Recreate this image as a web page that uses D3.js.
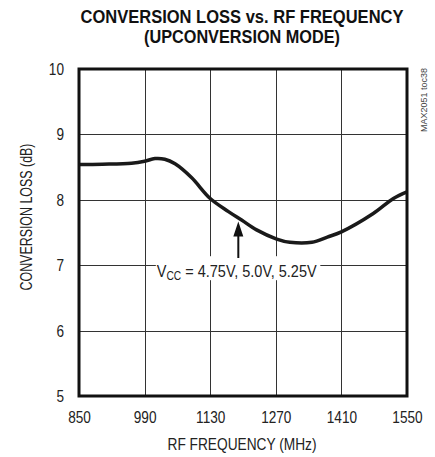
<!DOCTYPE html>
<html>
<head>
<meta charset="utf-8">
<script src="https://cdn.jsdelivr.net/npm/d3@7"></script>
<style>
  body { margin: 0; background: #fff; }
  text { font-family: 'Liberation Sans Narrow', 'Arial Narrow', 'Liberation Sans', sans-serif; fill: #222; }
</style>
</head>
<body>
<div id="chart"></div>
<script>
// Curve (MHz, dB)
const freqs = [850, 900, 962, 990, 1012, 1033, 1055, 1090, 1130, 1169, 1197, 1229, 1272, 1300, 1347, 1380, 1410, 1478, 1521, 1550];
const loss = [8.54, 8.545, 8.56, 8.59, 8.63, 8.62, 8.55, 8.34, 8.02, 7.82, 7.69, 7.54, 7.40, 7.35, 7.35, 7.43, 7.51, 7.79, 8.02, 8.12];

const xTicks = [850, 990, 1130, 1270, 1410, 1550];
const yTicks = [5, 6, 7, 8, 9, 10];

const titleLines = ['CONVERSION LOSS vs. RF FREQUENCY', '(UPCONVERSION MODE)'];
const xTitle = 'RF FREQUENCY (MHz)';
const yTitle = 'CONVERSION LOSS (dB)';
const tocLabel = 'MAX2051 toc38';

const width = 435, height = 457;
const margin = { top: 69, right: 28, bottom: 61, left: 79 };
const innerW = width - margin.left - margin.right;
const innerH = height - margin.top - margin.bottom;

// no narrow font installed, so squeeze the glyphs horizontally
function condense(sel, factor) {
  sel.each(function () {
    const w = this.getComputedTextLength();
    d3.select(this)
      .attr('textLength', w * factor)
      .attr('lengthAdjust', 'spacingAndGlyphs');
  });
}

const svg = d3.select('#chart').append('svg')
  .attr('width', width)
  .attr('height', height);

const chart = svg.append('g')
  .attr('transform', `translate(${margin.left},${margin.top})`);

const x = d3.scaleLinear().domain([850, 1550]).range([0, innerW]);
const y = d3.scaleLinear().domain([5, 10]).range([innerH, 0]);

// title
svg.selectAll('.title')
  .data(titleLines)
  .join('text')
  .attr('class', 'title')
  .attr('x', 242)
  .attr('y', (d, i) => 23 + i * 20)
  .attr('text-anchor', 'middle')
  .attr('font-size', 18)
  .attr('font-weight', 'bold')
  .style('fill', '#111')
  .attr('textLength', (d, i) => i === 0 ? 323 : 196)
  .attr('lengthAdjust', 'spacingAndGlyphs')
  .text(d => d);

// grid
chart.selectAll('.vgrid')
  .data(xTicks.slice(1, -1))
  .join('line')
  .attr('class', 'vgrid')
  .attr('x1', d => Math.round(x(d)) + 0.5)
  .attr('x2', d => Math.round(x(d)) + 0.5)
  .attr('y1', 0)
  .attr('y2', innerH)
  .attr('stroke', '#333')
  .attr('stroke-width', 1);

chart.selectAll('.hgrid')
  .data(yTicks.slice(1, -1))
  .join('line')
  .attr('class', 'hgrid')
  .attr('x1', 0)
  .attr('x2', innerW)
  .attr('y1', d => Math.round(y(d)) + 0.5)
  .attr('y2', d => Math.round(y(d)) + 0.5)
  .attr('stroke', '#333')
  .attr('stroke-width', 1);

// axes (labels only, no tick marks)
const xAxis = chart.append('g')
  .attr('transform', `translate(0,${innerH})`)
  .call(d3.axisBottom(x).tickValues(xTicks).tickFormat(d3.format('d')).tickSize(0).tickPadding(15));
const yAxis = chart.append('g')
  .call(d3.axisLeft(y).tickValues(yTicks).tickFormat(d3.format('d')).tickSize(0).tickPadding(15));
[xAxis, yAxis].forEach(a => {
  a.select('.domain').remove();
  a.selectAll('text')
    .attr('font-size', 17)
    .attr('font-family', null)
    .style('fill', '#222')
    .call(condense, 0.8);
});
xAxis.selectAll('text').attr('dy', '0.71em');

// curve
const line = d3.line()
  .x(d => x(d[0]))
  .y(d => y(d[1]))
  .curve(d3.curveCatmullRom.alpha(0.5));

chart.append('path')
  .datum(d3.zip(freqs, loss))
  .attr('fill', 'none')
  .attr('stroke', '#1a1a1a')
  .attr('stroke-width', 3.5)
  .attr('stroke-linejoin', 'round')
  .attr('d', line);

// annotation
const note = chart.append('g');
note.append('rect')
  .attr('x', x(1014))
  .attr('y', y(7) - 9)
  .attr('width', x(1365) - x(1014))
  .attr('height', 24)
  .attr('fill', '#fff');

// the whole label is squeezed as one group so its pieces stay apart
const noteG = note.append('g');
const noteText = noteG.append('text')
  .attr('font-size', 17)
  .style('fill', '#222');
noteText.append('tspan').text('V');
noteText.append('tspan').attr('font-size', 12).attr('dy', 3).text('CC');
noteText.append('tspan').attr('dy', -3).text(' = 4.75V, 5.0V, 5.25V');
const noteW = noteText.node().getComputedTextLength();
noteG.attr('transform', `translate(${x(1016)},${y(7) + 12}) scale(${160 / noteW},1)`);

const ax = x(1190);
note.append('line')
  .attr('x1', ax).attr('x2', ax)
  .attr('y1', y(7.6)).attr('y2', y(7.11))
  .attr('stroke', '#111')
  .attr('stroke-width', 2);
note.append('path')
  .attr('d', `M${ax},${y(7.67)} L${ax - 5},${y(7.44)} L${ax + 5},${y(7.44)} Z`)
  .attr('fill', '#111');

// frame
chart.append('rect')
  .attr('width', innerW)
  .attr('height', innerH)
  .attr('fill', 'none')
  .attr('stroke', '#111')
  .attr('stroke-width', 3);

// axis titles
svg.append('text')
  .attr('x', 242)
  .attr('y', 450)
  .attr('text-anchor', 'middle')
  .attr('font-size', 17)
  .attr('textLength', 149)
  .attr('lengthAdjust', 'spacingAndGlyphs')
  .text(xTitle);

svg.append('text')
  .attr('transform', 'translate(32,217) rotate(-90)')
  .attr('text-anchor', 'middle')
  .attr('font-size', 17)
  .attr('textLength', 147)
  .attr('lengthAdjust', 'spacingAndGlyphs')
  .text(yTitle);

svg.append('text')
  .attr('transform', 'translate(427,100) rotate(-90)')
  .attr('text-anchor', 'middle')
  .attr('font-size', 9)
  .attr('textLength', 64)
  .attr('lengthAdjust', 'spacingAndGlyphs')
  .style('fill', '#444')
  .text(tocLabel);
</script>
</body>
</html>
